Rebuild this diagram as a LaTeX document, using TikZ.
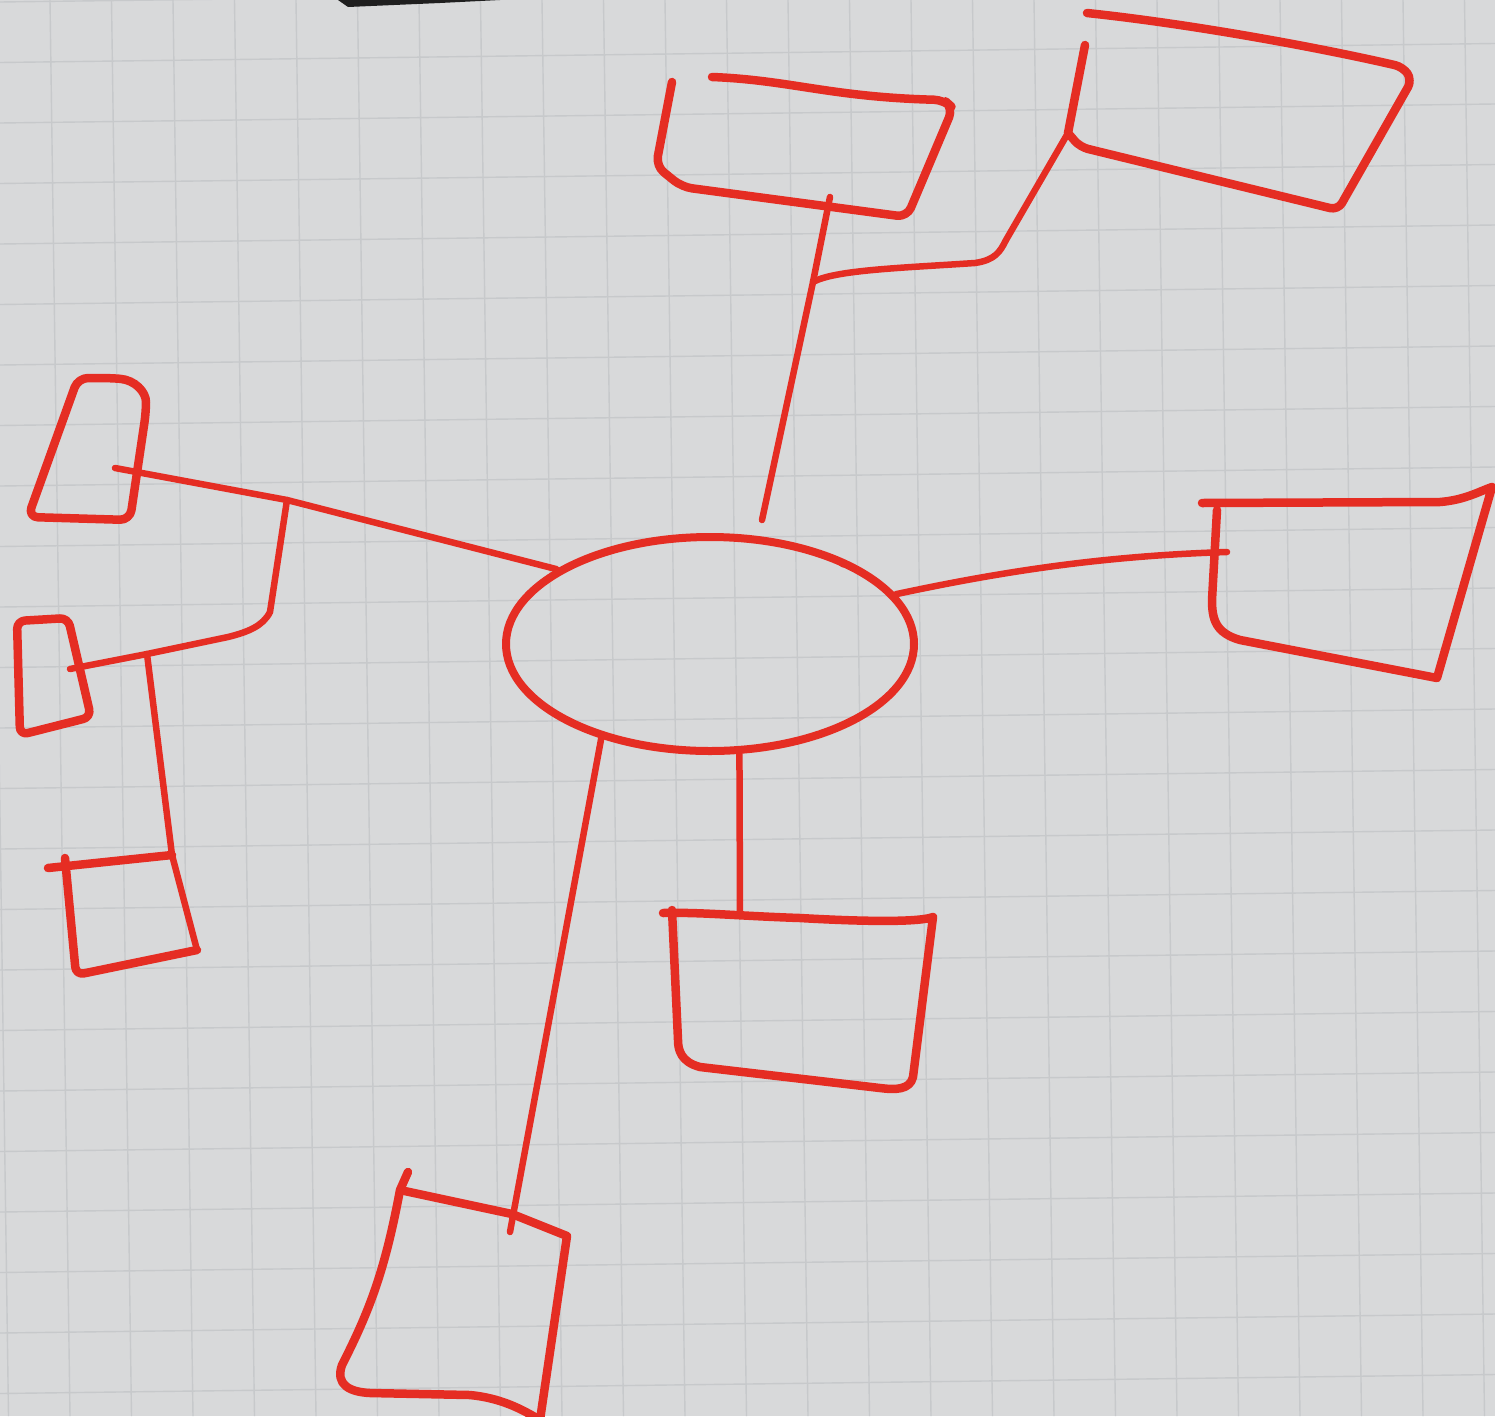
\documentclass[tikz,border=0pt]{standalone}
\usetikzlibrary{shapes.geometric}
\definecolor{paper}{RGB}{216,217,218}
\definecolor{gridc}{RGB}{199,201,203}
\definecolor{pen}{RGB}{229,45,35}
\begin{document}
\begin{tikzpicture}[x=1pt,y=-1pt,
  marker/.style={draw=pen,line width=8.5pt,line cap=round,line join=round},
  link/.style={draw=pen,line width=6.5pt,line cap=round,line join=round},
  gridline/.style={draw=gridc,line width=1.4pt}]
\useasboundingbox (0,0) rectangle (1495,1416);
\clip (0,0) rectangle (1495,1416);
% paper and grid
\fill[paper] (0,0) rectangle (1495,1416);
\foreach \k in {-1,...,24} {\draw[gridline] ({50+61.5*\k},0) -- ({70+61.5*\k},1416);}
\foreach \k in {0,...,24} {\draw[gridline] (0,{2+60.5*\k}) -- (1495,{-17+60.5*\k});}
% dark strip at the top edge
\fill[black!88] (338,0) -- (500,0) -- (440,3) -- (348,7) -- cycle;
% central ellipse
\node[ellipse,draw=pen,line width=8pt,minimum width=408pt,minimum height=214pt,inner sep=0pt] (hub) at (710,644) {};
\draw[link,line width=5pt] (832,557) -- (843,565);
% named points
\coordinate (tEnd) at (762,520);
\coordinate (j1) at (813,282);
\coordinate (tTop) at (830,197);
\coordinate (trJoin) at (1068,133);
\coordinate (rEnd) at (1227,552);
\coordinate (bmTop) at (740,916);
\coordinate (bEnd) at (510,1232);
\coordinate (j2) at (287,500);
\coordinate (b1End) at (115,468);
\coordinate (j3) at (147,654);
\coordinate (b2End) at (70,669);
\coordinate (b3Corner) at (172,855);
% connectors
\draw[link] (tEnd) -- (j1) -- (tTop);
\draw[link] (j1) .. controls (835,270) and (900,268) .. (975,263)
  .. controls (995,260) and (1000,252) .. (1006,240) -- (trJoin);
\draw[link] (hub.15) .. controls (1000,572) and (1100,556) .. (rEnd);
\draw[link] (hub.285.4) -- (bmTop);
\draw[link] (hub.221) -- (bEnd);
\draw[link] (hub.154) -- (j2) -- (b1End);
\draw[link] (j2) -- (270,612) .. controls (263,626) and (248,632) .. (228,637) -- (j3) -- (b2End);
\draw[link] (j3) -- (b3Corner) -- (197,950);
% top middle box
\draw[marker,rounded corners=10] (712,77) .. controls (790,80) and (830,97) .. (944,100)
  -- (953,108) -- (907,217) -- (682,187) -- (656,166) -- (672,82);
% top right box
\draw[marker,rounded corners=8] (1087,13) .. controls (1200,25) and (1330,50) .. (1403,67)
  -- (1412,80) -- (1338,210) -- (1080,147) -- (trJoin);
\draw[marker] (trJoin) -- (1085,45);
% right box
\draw[marker] (1202,503) -- (1440,502) .. controls (1465,500) and (1480,491) .. (1492,487)
  -- (1437,678) -- (1240,640) .. controls (1216,633) and (1212,620) .. (1212,600) -- (1217,510);
% bottom middle box
\draw[marker] (663,913) .. controls (700,912) and (740,916) .. (800,918)
  .. controls (870,922) and (920,922) .. (933,917) -- (913,1077)
  .. controls (910,1090) and (895,1090) .. (880,1088) -- (700,1067)
  .. controls (681,1062) and (678,1050) .. (678,1040) -- (672,910);
% bottom box
\draw[marker] (408,1172) -- (400,1190) -- (512,1214) -- (567,1236) -- (540,1420);
\draw[marker] (400,1190) .. controls (385,1270) and (370,1310) .. (342,1365)
  .. controls (335,1385) and (350,1392) .. (370,1393) -- (470,1395)
  .. controls (500,1398) and (520,1408) .. (540,1420);
% left box 1
\draw[marker,rounded corners=10] (78,378) -- (110,378) .. controls (135,380) and (146,392) .. (146,412)
  -- (130,520) -- (28,517) -- cycle;
% left box 2
\draw[marker,rounded corners=8] (17,621) -- (68,618) -- (91,717) -- (20,735) -- cycle;
% left box 3
\draw[marker] (48,868) -- (b3Corner);
\draw[marker,rounded corners=8] (65,858) -- (76,975) -- (197,950);
\end{tikzpicture}
\end{document}
